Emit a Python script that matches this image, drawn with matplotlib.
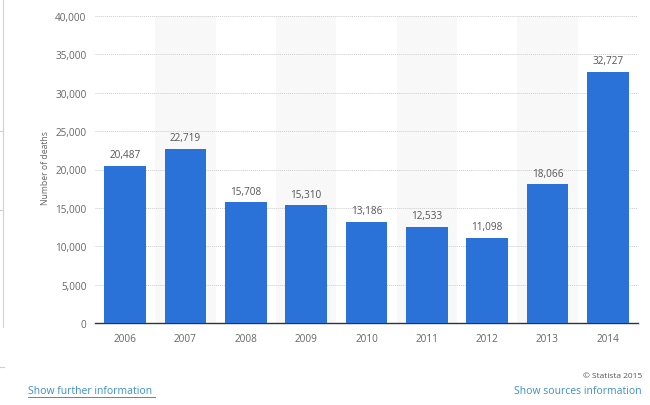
import matplotlib
matplotlib.use("Agg")
import matplotlib.pyplot as plt
from matplotlib.lines import Line2D

years = ["2006", "2007", "2008", "2009", "2010", "2011", "2012", "2013", "2014"]
deaths = [20487, 22719, 15708, 15310, 13186, 12533, 11098, 18066, 32727]
yticks = [0, 5000, 10000, 15000, 20000, 25000, 30000, 35000, 40000]

plt.rcParams['font.family'] = ['Open Sans', 'DejaVu Sans']

W, H = 650, 406
fig = plt.figure(figsize=(W / 100, H / 100), dpi=100)
fig.patch.set_facecolor("white")
ax = fig.add_axes([95 / W, 1 - 324 / H, (638 - 95) / W, (324 - 17) / H])

x = list(range(len(years)))
for i in x:
    if i % 2 == 1:
        ax.axvspan(i - 0.5, i + 0.5, color="#f8f8f8", zorder=0, lw=0)

ax.set_ylim(0, 40000)
ax.set_xlim(-0.5, len(years) - 0.5)
ax.set_yticks(yticks)
ax.set_yticklabels([f"{v:,}" for v in yticks])
ax.yaxis.grid(True, color="#cccccc", linestyle=(0, (1, 1)), linewidth=0.7, zorder=1)
ax.set_axisbelow(True)

bars = ax.bar(x, deaths, width=0.69, color="#2a71d8", zorder=3)
for xi, v in zip(x, deaths):
    ax.annotate(f"{v:,}", (xi, v), xytext=(0, 4), textcoords="offset points",
                ha="center", va="bottom", fontsize=7.2, color="#555555")

ax.set_xticks(x)
ax.set_xticklabels(years)
ax.tick_params(axis="both", length=0, labelsize=7.2, colors="#666666")
ax.tick_params(axis="y", pad=6)
ax.tick_params(axis="x", pad=7)
for s in ["top", "right", "left"]:
    ax.spines[s].set_visible(False)
ax.spines["bottom"].set_color("#333333")
ax.spines["bottom"].set_linewidth(1.0)

fig.text(45 / W, 1 - 168 / H, "Number of deaths", rotation=90, ha="center", va="center",
         fontsize=6.2, color="#666666")

# page decorations
fig.add_artist(Line2D([3 / W, 3 / W], [1, 1 - 328 / H], color="#d0d0d0", lw=0.8))
for yy in [132, 211]:
    fig.add_artist(Line2D([0, 3 / W], [1 - yy / H, 1 - yy / H], color="#d0d0d0", lw=0.8))
fig.add_artist(Line2D([0, 4 / W], [1 - 368 / H, 1 - 368 / H], color="#d0d0d0", lw=0.8))

fig.text(28 / W, 1 - 392 / H, "Show further information ", ha="left", va="center",
         fontsize=7.5, color="#3d8fc6")
fig.add_artist(Line2D([28 / W, 155 / W], [1 - 398 / H, 1 - 398 / H], color="#3d8fc6", lw=0.7))
fig.text(642 / W, 1 - 377 / H, "© Statista 2015", ha="right", va="center",
         fontsize=6.0, color="#555555")
fig.text(642 / W, 1 - 392 / H, "Show sources information", ha="right", va="center",
         fontsize=7.5, color="#3d8fc6")

fig.savefig("out.png", dpi=100, facecolor="white")
